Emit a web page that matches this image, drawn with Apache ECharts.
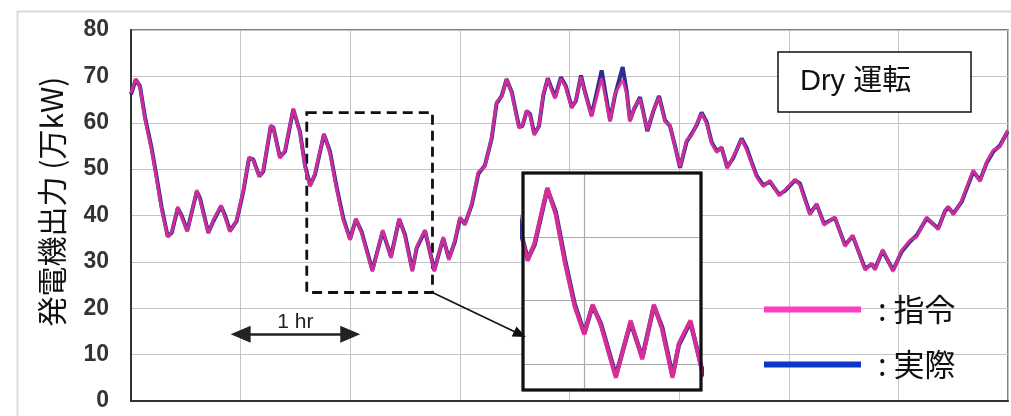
<!DOCTYPE html>
<html><head><meta charset="utf-8">
<script src="https://cdn.jsdelivr.net/npm/echarts@6/dist/echarts.min.js"></script>
<style>html,body{margin:0;padding:0;background:#fff}#c{width:1011px;height:416px}</style>
</head><body><div id="c"></div>
<script>
// time in minutes (8 hours total)
const minutes = [0,2.6,4.9,7.7,11.3,14.1,16.8,20.1,22.3,25.6,
27.7,30.8,36.0,37.8,42.3,45.0,49.3,51.4,54.2,57.8,
61.5,64.6,66.9,70.2,72.4,76.5,77.9,81.5,84.3,88.8,
92.5,95.2,98.0,100.7,105.6,108.9,112.6,116.2,119.9,123.1,
126.3,132.1,137.8,142.3,146.8,150.0,154.0,156.4,160.9,166.0,
170.9,174.0,177.3,180.1,182.8,186.5,190.1,193.7,197.4,200.1,
202.9,205.6,208.4,212.4,214.2,216.6,218.4,220.7,223.3,225.7,
228.1,229.9,232.1,235.3,237.9,241.2,243.5,246.3,248.5,252.1,
257.6,262.2,264.9,269.1,271.3,273.1,275.5,278.6,280.4,282.6,
285.9,289.0,292.3,295.0,297.7,300.5,304.1,306.9,309.6,312.3,
315.1,317.8,320.6,323.3,326.3,329.6,334.2,337.0,339.7,342.4,
346.1,349.7,354.8,357.9,363.4,366.1,368.9,371.6,375.3,379.3,
385.3,390.8,395.0,401.8,405.4,407.2,411.4,417.1,421.8,426.4,
430.0,435.5,441.8,445.5,447.3,450.1,454.7,461.0,464.7,468.3,
472.0,475.6,479.8];
// 指令 (command), 万kW
const command = [66.4,69.5,67.7,60.6,54.1,47.6,41.2,35.3,36.5,41.9,
39.7,36.5,45.5,43.3,36.1,39.0,42.2,39.7,36.5,39.0,
45.5,52.6,51.9,48.3,49.8,59.5,58.8,52.3,54.1,63.1,
57.7,50.5,46.2,49.1,57.7,53.4,45.5,39.0,34.7,39.4,
36.1,27.9,36.9,30.8,39.4,35.4,27.9,33.3,36.9,27.9,
35.4,30.4,34.7,39.7,37.9,42.6,49.4,50.5,57.0,64.5,
65.6,69.5,66.3,58.8,59.5,62.7,61.6,57.3,59.5,66.3,
69.5,67.4,65.2,69.5,67.7,63.1,64.9,69.9,66.3,61.3,
69.6,60.2,66.3,69.2,66.3,60.2,63.4,65.2,62.0,58.4,
62.7,65.6,60.2,59.5,54.8,50.5,56.3,57.3,59.8,62.0,
59.8,55.5,53.6,54.8,50.1,52.7,56.4,54.1,51.2,48.3,
46.2,47.6,44.2,45.5,47.8,46.6,43.3,40.1,42.6,37.9,
39.7,33.3,35.8,28.2,29.7,28.2,32.7,27.9,32.5,34.7,
35.4,39.7,36.9,41.2,42.0,40.1,43.3,49.8,47.3,51.6,
54.1,54.8,58.4];
// 実際 (actual), 万kW
const actual = [66.1,69.3,67.9,61.1,54.5,48.1,41.7,35.5,36.3,41.6,
40.0,36.7,45.2,43.7,36.3,38.7,42.0,40.1,36.7,38.8,
45.2,52.4,52.1,48.5,49.5,59.3,59.0,52.6,53.8,62.9,
58.0,50.9,46.5,48.8,57.5,53.8,46.0,39.4,34.9,39.2,
36.4,28.2,36.6,31.1,39.2,35.8,28.2,33.0,36.7,28.2,
35.1,30.7,34.4,39.4,38.2,42.3,49.0,50.8,56.6,64.2,
65.8,69.4,66.6,59.1,59.3,62.5,61.9,57.6,59.3,66.0,
69.6,67.7,65.5,69.8,68.0,63.4,64.7,70.2,66.6,61.6,
71.3,60.5,65.9,72.0,66.8,60.5,63.1,65.5,62.3,58.2,
62.5,65.8,60.5,59.3,55.1,50.3,55.9,57.6,59.5,62.2,
60.1,55.8,53.9,54.6,50.4,52.4,56.6,54.5,51.5,48.6,
46.5,47.3,44.5,45.3,47.6,46.9,43.6,40.4,42.4,38.2,
39.5,33.6,35.6,28.5,29.5,28.5,32.4,28.2,32.2,34.4,
35.7,39.4,37.2,40.9,41.8,40.4,43.0,49.5,47.6,51.3,
53.8,55.1,58.1];
const yTicks = [0,10,20,30,40,50,60,70,80];
const seriesNames = ['指令','実際'];
const yTitle = '発電機出力 (万kW)';
const modeLabel = 'Dry 運転';
const hourLabel = '1 hr';
// zoom window (minutes, 万kW) shown magnified in the inset
const zoomX = [96.2, 165];
const zoomY = [23.4, 62.2];
const insetY = [26, 60];
const insetGridY = [30, 40, 50];
const insetGridX = [120];
const hourSpan = [60, 120, 14.4];
const connector = [[165, 23.4], [212.9, 14.4]];

const cmdData = minutes.map((t,i)=>[t, command[i]]);
const actData = minutes.map((t,i)=>[t, actual[i]]);

const PINK = '#e52c97', BLUE = '#2b2d92';
const chart = echarts.init(document.getElementById('c'), null, {renderer:'canvas'});
chart.setOption({
  animation:false,
  backgroundColor:'#fff',
  graphic:[{type:'rect', left:15, top:9, z:-10, silent:true,
    shape:{width:1100, height:500}, style:{fill:'none', stroke:'#dcdcdc', lineWidth:2}}],
  title:{text:modeLabel, left:778, top:52, padding:[15,60,15,22],
    borderColor:'#111', borderWidth:1.5, backgroundColor:'#fff',
    textStyle:{fontSize:29, fontWeight:'normal', lineHeight:30, color:'#111',
      fontFamily:"'Liberation Sans','Noto Sans CJK JP',sans-serif"}},
  legend:{orient:'vertical', left:759, top:288, itemWidth:97, itemHeight:6, itemGap:22,
    icon:'rect', selectedMode:false,
    data:[{name:seriesNames[0], itemStyle:{color:'#ff3ec6'}},
          {name:seriesNames[1], itemStyle:{color:'#0b36c8'}}],
    formatter:n=>': '+n,
    textStyle:{fontSize:31, lineHeight:33, color:'#111', padding:[0,0,0,12],
      fontFamily:"'Noto Sans CJK JP',sans-serif"}},
  grid:[
    {left:131, top:30, width:877, height:371, show:true, borderColor:'#555', borderWidth:1.5, backgroundColor:'#fff'},
    {left:523, top:173, width:178, height:217, show:true, z:5, borderColor:'#111', borderWidth:2.5, backgroundColor:'#fff'},
    {left:523, top:173, width:178, height:217, show:true, z:9, borderColor:'#111', borderWidth:3, backgroundColor:'rgba(0,0,0,0)'}
  ],
  xAxis:[
    {type:'value', gridIndex:0, min:0, max:480, interval:60,
      axisLine:{show:true, onZero:false, lineStyle:{color:'#333', width:2}},
      axisTick:{show:false}, axisLabel:{show:false},
      splitLine:{show:true, lineStyle:{color:'#c4c4c4', width:1}}},
    {type:'value', gridIndex:1, min:zoomX[0], max:zoomX[1], z:5,
      axisLine:{show:false}, axisTick:{show:false}, axisLabel:{show:false}, splitLine:{show:false}},
    {type:'value', gridIndex:2, min:zoomX[0], max:zoomX[1], show:false}
  ],
  yAxis:[
    {type:'value', gridIndex:0, min:yTicks[0], max:yTicks[yTicks.length-1], interval:10,
      name:yTitle, nameLocation:'middle', nameGap:64, nameRotate:90,
      nameTextStyle:{fontSize:30, color:'#111', padding:[0,0,0,28], fontFamily:"'Noto Sans CJK JP',sans-serif"},
      axisLine:{show:true, lineStyle:{color:'#333', width:2}}, axisTick:{show:false},
      axisLabel:{fontSize:23, fontWeight:'bold', color:'#333', margin:22,
        fontFamily:"'Liberation Sans',Arial,sans-serif"},
      splitLine:{show:true, lineStyle:{color:'#c4c4c4', width:1}}},
    {type:'value', gridIndex:1, min:insetY[0], max:insetY[1], z:5,
      axisLine:{show:false}, axisTick:{show:false}, axisLabel:{show:false}, splitLine:{show:false}},
    {type:'value', gridIndex:2, min:insetY[0], max:insetY[1], show:false}
  ],
  series:[
    {name:seriesNames[1], type:'line', xAxisIndex:0, yAxisIndex:0, data:actData, showSymbol:false, z:2,
      lineStyle:{color:BLUE, width:4}, itemStyle:{color:BLUE},
      markLine:{silent:true, symbol:['none','triangle'], symbolSize:[11,13],
        lineStyle:{color:'#111', width:1.5, type:'solid'}, label:{show:false},
        data:[[{coord:connector[0]},{coord:connector[1]}]]}},
    {name:seriesNames[0], type:'line', xAxisIndex:0, yAxisIndex:0, data:cmdData, showSymbol:false, z:3,
      lineStyle:{color:PINK, width:3, opacity:0.88}, itemStyle:{color:PINK},
      markArea:{silent:true, itemStyle:{color:'rgba(0,0,0,0)', borderColor:'#111', borderWidth:2.8, borderType:[10,6]},
        data:[[{coord:[zoomX[0], zoomY[1]]},{coord:[zoomX[1], zoomY[0]]}]]},
      markLine:{silent:true, symbol:['triangle','triangle'], symbolSize:[17,20],
        lineStyle:{color:'#222', width:2.5, type:'solid'},
        label:{show:true, position:'middle', formatter:hourLabel, fontSize:21, color:'#222', distance:2,
          fontFamily:"'Liberation Sans',Arial,sans-serif"},
        data:[[{coord:[hourSpan[0],hourSpan[2]]},{coord:[hourSpan[1],hourSpan[2]]}]]}},
    {name:seriesNames[1], type:'line', xAxisIndex:1, yAxisIndex:1, data:actData, showSymbol:false, z:7, clip:true,
      lineStyle:{color:BLUE, width:4.5}, itemStyle:{color:BLUE},
      markLine:{silent:true, z:6, symbol:['none','none'], label:{show:false},
        lineStyle:{color:'#aaa', width:1.2, type:'solid'},
        data:insetGridY.map(v=>({yAxis:v})).concat(insetGridX.map(v=>({xAxis:v})))}},
    {name:seriesNames[0], type:'line', xAxisIndex:1, yAxisIndex:1, data:cmdData, showSymbol:false, z:8, clip:true,
      lineStyle:{color:PINK, width:4, opacity:0.92}, itemStyle:{color:PINK}}
  ]
});
</script></body></html>
